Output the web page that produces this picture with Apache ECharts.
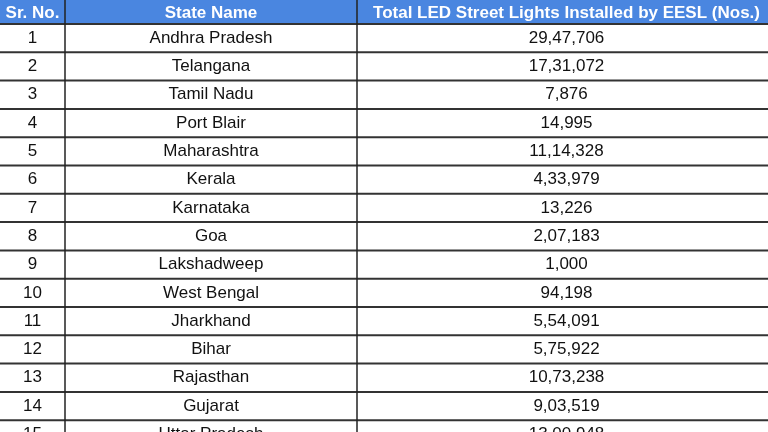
<!DOCTYPE html>
<html><head><meta charset="utf-8">
<script src="https://cdn.jsdelivr.net/npm/echarts@6/dist/echarts.min.js"></script>
<style>html,body{margin:0;padding:0;background:#fff}#c{width:768px;height:432px}</style>
</head><body><div id="c"></div>
<script>
const headers = ['Sr. No.', 'State Name', 'Total LED Street Lights Installed by EESL (Nos.)'];
const serial = ['1','2','3','4','5','6','7','8','9','10','11','12','13','14','15'];
const states = ['Andhra Pradesh','Telangana','Tamil Nadu','Port Blair','Maharashtra','Kerala','Karnataka','Goa','Lakshadweep','West Bengal','Jharkhand','Bihar','Rajasthan','Gujarat','Uttar Pradesh'];
const lights = ['29,47,706','17,31,072','7,876','14,995','11,14,328','4,33,979','13,226','2,07,183','1,000','94,198','5,54,091','5,75,922','10,73,238','9,03,519','13,00,948'];

const colX = [0, 65, 357, 768];
const headH = 24, rowH = 28.3;
const els = [];
els.push({type:'rect', shape:{x:0,y:0,width:768,height:headH}, style:{fill:'#4a86e0'}});
headers.forEach((h,i)=>{
  els.push({type:'text', x:(colX[i]+colX[i+1])/2 + (i==2?4:0), y:headH/2+1, style:{text:h, fill:'#fff', font:'bold 17px "Liberation Sans", Arial', align:'center', verticalAlign:'middle'}});
});
const cols = [serial, states, lights];
for (let r=0; r<serial.length; r++) {
  const top = headH + r*rowH;
  cols.forEach((c,i)=>{
    els.push({type:'text', x:(colX[i]+colX[i+1])/2 + (i==2?4:0), y:top+rowH/2, style:{text:c[r], fill:'#111', font:'17px "Liberation Sans", Arial', align:'center', verticalAlign:'middle'}});
  });
  els.push({type:'line', shape:{x1:0,y1:top,x2:768,y2:top}, style:{stroke:'#333', lineWidth:2}});
}
els.push({type:'line', shape:{x1:colX[1],y1:0,x2:colX[1],y2:432}, style:{stroke:'#222', lineWidth:1.5}});
els.push({type:'line', shape:{x1:colX[2],y1:0,x2:colX[2],y2:432}, style:{stroke:'#222', lineWidth:1.5}});
const chart = echarts.init(document.getElementById('c'));
chart.setOption({animation:false, graphic:{elements:els}});
</script></body></html>
